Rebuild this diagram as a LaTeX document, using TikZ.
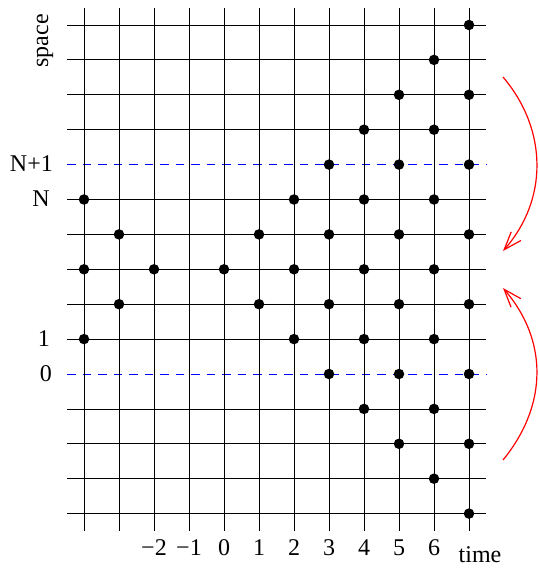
\documentclass[tikz,border=0pt]{standalone}
\usepackage{fontspec}
\setmainfont{Liberation Serif}
\usetikzlibrary{arrows.meta}
\begin{document}
\begin{tikzpicture}[x=1pt,y=-1pt,
  gridline/.style={black, line width=0.8pt},
  dashline/.style={blue, line width=0.8pt, dash pattern=on 8.5pt off 7pt},
  dot/.style={circle, fill=black, inner sep=0pt, minimum size=10.5pt},
  lbl/.style={font=\fontsize{24}{28}\selectfont, inner sep=0pt},
  redarc/.style={red, line width=1.2pt, -{Straight Barb[length=18pt,width=13pt]}}]
\useasboundingbox (0,0) rectangle (538,569);
% dashed lines
\foreach \r in {0,6}
  \draw[dashline] (67,{374-34.9*\r}) -- (486,{374-34.9*\r});
% horizontal grid lines
\foreach \r in {-4,-3,-2,-1,1,2,3,4,5,7,8,9,10}
  \draw[gridline] (67,{374-34.9*\r}) -- (486,{374-34.9*\r});
% vertical grid lines
\foreach \c in {-4,...,7}
  \draw[gridline] ({224+35*\c},8) -- ({224+35*\c},531);
% dots
\foreach \c/\rs in {-4/{5,3,1}, -3/{4,2}, -2/{3}, 0/{3}, 1/{4,2}, 2/{5,3,1},
    3/{6,4,2,0}, 4/{7,5,3,1,-1}, 5/{8,6,4,2,0,-2}, 6/{9,7,5,3,1,-1,-3},
    7/{10,8,6,4,2,0,-2,-4}}
  \foreach \r in \rs
    \node[dot] (d\c r\r) at ({224+35*\c},{374-34.9*\r}) {};
% labels
\node[lbl, rotate=90] (space) at (45,41) {space};
\node[lbl, anchor=east] (lNp) at (53,164) {N+1};
\node[lbl, anchor=east] (lN) at (50,199) {N};
\node[lbl, anchor=east] (l1) at (50,339) {1};
\node[lbl, anchor=east] (l0) at (52,374) {0};
\foreach \c/\t in {-2/−2, -1/−1, 0/0, 1/1, 2/2, 3/3, 4/4, 5/5, 6/6}
  \node[lbl] (t\c) at ({224+35*\c},548) {\t};
\node[lbl] (time) at (480,555) {time};
% red arrows
\coordinate (a1s) at (503,77);
\coordinate (a1e) at (503,251);
\coordinate (a2s) at (503,460);
\coordinate (a2e) at (503,288);
\draw[redarc] (a1s) .. controls (548,130) and (548,200) .. (a1e);
\draw[redarc] (a2s) .. controls (548,405) and (548,340) .. (a2e);
\end{tikzpicture}
\end{document}
